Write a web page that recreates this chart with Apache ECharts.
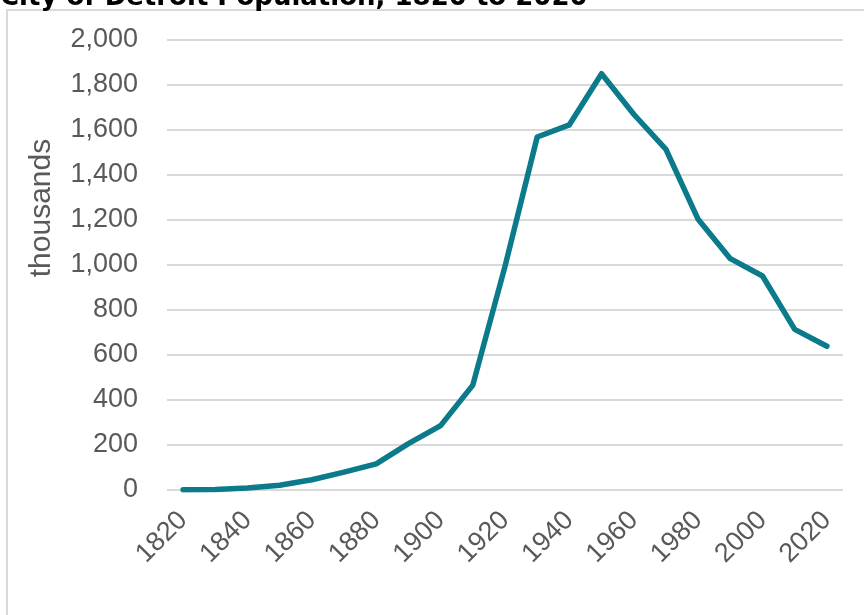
<!DOCTYPE html>
<html>
<head>
<meta charset="utf-8">
<script src="https://cdn.jsdelivr.net/npm/echarts@6/dist/echarts.min.js"></script>
<style>
  html, body { margin: 0; padding: 0; background: #fff; }
  #chart { width: 864px; height: 615px; }
</style>
</head>
<body>
<div id="chart"></div>
<script>
// Detroit city population by census year, in thousands
const years = ['1820','1830','1840','1850','1860','1870','1880','1890','1900','1910',
               '1920','1930','1940','1950','1960','1970','1980','1990','2000','2010','2020'];
const population = [1.4, 2.2, 9.1, 21, 45.6, 79.6, 116, 206, 286, 466,
                    994, 1569, 1623, 1850, 1670, 1514, 1203, 1028, 951, 714, 639];

const titleText = 'City of Detroit Population, 1820 to 2020';
const yAxisName = 'thousands';

const labelFont = 'Liberation Sans';
const labelColor = '#595959';

const chart = echarts.init(document.getElementById('chart'), null, { renderer: 'canvas' });

chart.setOption({
  backgroundColor: '#ffffff',
  animation: false,
  title: {
    text: titleText,
    left: 0,
    top: -15,
    padding: 0,
    textStyle: {
      fontFamily: 'DejaVu Sans',
      fontWeight: 'bold',
      fontSize: 26,
      color: '#000000'
    }
  },
  graphic: [
    {
      // chart area frame
      type: 'rect',
      silent: true,
      z: -10,
      shape: { x: 7, y: 10, width: 900, height: 700 },
      style: { fill: 'none', stroke: '#d9d9d9', lineWidth: 2 }
    },
    {
      // value axis title, sitting a little above the plot's middle
      type: 'text',
      silent: true,
      x: 42,
      y: 208,
      rotation: Math.PI / 2,
      style: {
        text: yAxisName,
        fontFamily: labelFont,
        fontSize: 30,
        fill: labelColor,
        align: 'center',
        verticalAlign: 'middle'
      }
    }
  ],
  grid: { left: 167, right: 21, top: 40, bottom: 125, containLabel: false },
  xAxis: {
    type: 'category',
    data: years,
    boundaryGap: true,
    axisLine: { show: false },
    axisTick: { show: false },
    axisLabel: {
      interval: 1,
      rotate: 45,
      margin: 26,
      fontFamily: labelFont,
      fontSize: 27,
      color: labelColor
    }
  },
  yAxis: {
    type: 'value',
    min: 0,
    max: 2000,
    interval: 200,
    axisLine: { show: false },
    axisTick: { show: false },
    axisLabel: {
      margin: 29,
      fontFamily: labelFont,
      fontSize: 27,
      color: labelColor,
      formatter: v => v.toLocaleString('en-US')
    },
    splitLine: { lineStyle: { color: '#d9d9d9', width: 2 } }
  },
  series: [
    {
      type: 'line',
      data: population,
      symbol: 'none',
      smooth: false,
      lineStyle: { color: '#0b7a8a', width: 5.5, cap: 'round', join: 'round' }
    }
  ]
});
</script>
</body>
</html>
